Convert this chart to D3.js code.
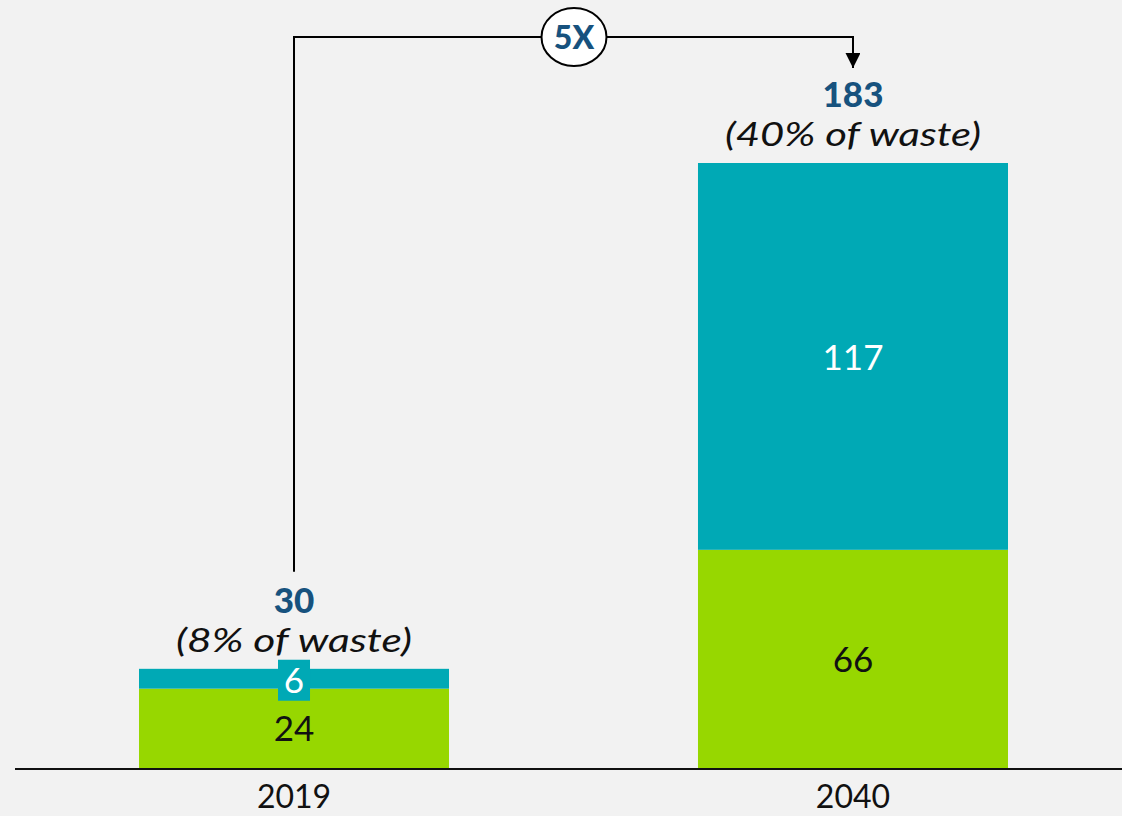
<!DOCTYPE html>
<html>
<head>
<meta charset="utf-8">
<script src="https://cdn.jsdelivr.net/npm/d3@7"></script>
<style>
  html, body { margin: 0; padding: 0; background: #f2f2f2; }
  svg { display: block; }
  text { font-family: Lato, "Open Sans", sans-serif; }
</style>
</head>
<body>
<svg id="chart" width="1122" height="816"></svg>
<script>
const categories = ["2019", "2040"];
const greenValues = [24, 66];
const tealValues = [6, 117];
const totals = [30, 183];
const shareLabels = ["(8% of waste)", "(40% of waste)"];
const multiplierLabel = "5X";

const W = 1122, H = 816;
const baseY = 768;
const colors = { green: "#97d700", teal: "#00a9b5", blue: "#17527e", bg: "#f2f2f2" };

const svg = d3.select("#chart");
svg.append("rect").attr("width", W).attr("height", H).attr("fill", colors.bg);

const x = d3.scaleBand().domain(categories).range([139, 1008]).paddingInner(0.4454).paddingOuter(0);
const y = d3.scaleLinear().domain([0, 183]).range([baseY, 163]);

const rows = categories.map((c, i) => ({ cat: c, green: greenValues[i], teal: tealValues[i], total: totals[i], share: shareLabels[i] }));
const stack = d3.stack().keys(["green", "teal"])(rows);

const g = svg.append("g");
g.selectAll("g.layer").data(stack).join("g")
  .attr("class", "layer")
  .attr("fill", d => colors[d.key])
  .selectAll("rect").data(d => d).join("rect")
  .attr("x", d => x(d.data.cat))
  .attr("width", x.bandwidth())
  .attr("y", d => y(d[1]))
  .attr("height", d => y(d[0]) - y(d[1]));

rows.forEach(r => {
  const cx = x(r.cat) + x.bandwidth() / 2;
  g.append("text").attr("x", cx).attr("y", (y(0) + y(r.green)) / 2 + 13)
    .attr("text-anchor", "middle").attr("font-size", 35).attr("font-weight", 400)
    .attr("fill", "#111").text(r.green);
  const midT = (y(r.green) + y(r.green + r.teal)) / 2;
  if (r.teal < 20) {
    g.append("rect").attr("x", cx - 16).attr("y", midT - 19).attr("width", 32).attr("height", 41)
      .attr("fill", colors.teal);
  }
  g.append("text").attr("x", cx).attr("y", midT + 14)
    .attr("text-anchor", "middle").attr("font-size", 35).attr("font-weight", 400)
    .attr("fill", "#fff").text(r.teal);
  const top = y(r.total);
  g.append("text").attr("x", cx).attr("y", top - 56)
    .attr("text-anchor", "middle").attr("font-size", 35).attr("font-weight", 900)
    .attr("fill", colors.blue).text(r.total);
  g.append("text").attr("x", cx).attr("y", top - 17)
    .attr("text-anchor", "middle").attr("font-size", 32).attr("font-style", "italic").attr("font-weight", 400)
    .attr("fill", "#111")
    .attr("textLength", r.share.length > 13 ? 256 : 236).attr("lengthAdjust", "spacingAndGlyphs")
    .text(r.share);
});

const axis = svg.append("g").attr("transform", `translate(0,${baseY + 1})`)
  .call(d3.axisBottom(x).tickSize(0).tickPadding(0));
axis.select(".domain").remove();
axis.append("line").attr("x1", 15).attr("x2", W).attr("stroke", "#111").attr("stroke-width", 2);
axis.selectAll(".tick text").attr("font-size", 32).attr("font-weight", 400)
  .attr("fill", "#111").attr("font-family", "Lato, sans-serif").attr("dy", null).attr("y", 39);

const x1 = x("2019") + x.bandwidth() / 2;
const x2 = x("2040") + x.bandwidth() / 2;
const topY = 37;
const startY = y(totals[0]) - 97;
const endY = y(totals[1]) - 95;
svg.append("defs").append("marker").attr("id", "arr")
  .attr("viewBox", "0 0 10 10").attr("refX", 10).attr("refY", 5)
  .attr("markerWidth", 15).attr("markerHeight", 15).attr("markerUnits", "userSpaceOnUse")
  .attr("orient", "auto")
  .append("path").attr("d", "M0,0 L10,5 L0,10 Z").attr("fill", "#000");
svg.append("path")
  .attr("d", `M${x1},${startY} V${topY} H${x2} V${endY}`)
  .attr("fill", "none").attr("stroke", "#000").attr("stroke-width", 2)
  .attr("marker-end", "url(#arr)");
const cxm = 574;
svg.append("ellipse").attr("cx", cxm).attr("cy", topY).attr("rx", 32.5).attr("ry", 29)
  .attr("fill", "#fff").attr("stroke", "#000").attr("stroke-width", 2);
svg.append("text").attr("x", cxm).attr("y", topY + 12).attr("text-anchor", "middle")
  .attr("font-size", 32).attr("font-weight", 900).attr("fill", colors.blue).text(multiplierLabel);
</script>
</body>
</html>
